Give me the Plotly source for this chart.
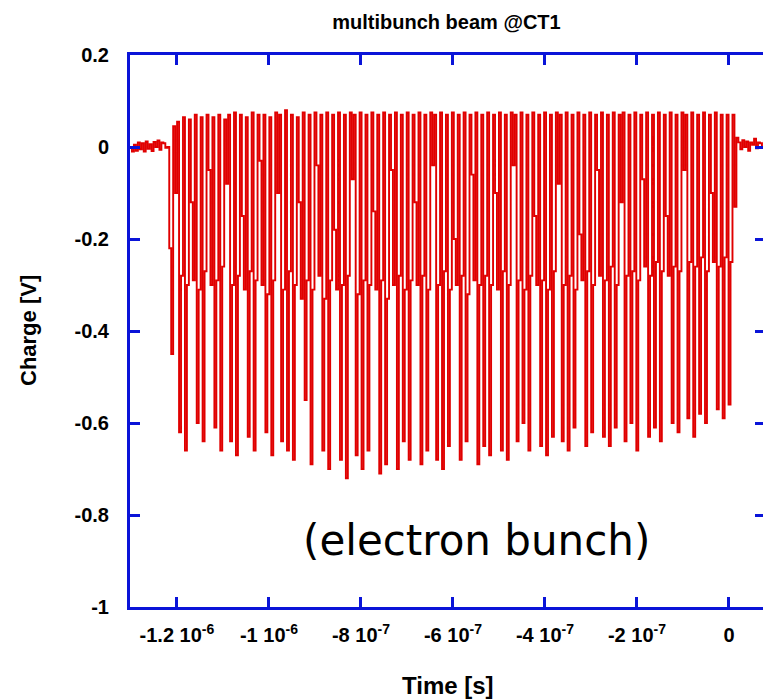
import numpy as np
import plotly.graph_objects as go

# ---- data ----
t_start = -1.302e-6          # first sample time [s]
dt = 4.266e-9                # scope sampling interval [s]

baseline_pre = [0.0, -0.01, 0.005, -0.008, 0.01, -0.005, 0.008, -0.01, 0.012, -0.004,
                0.006, -0.009, 0.011, 0.0, 0.014, -0.006, 0.01, 0.008, -0.002]

train = [
    0.00, -0.22, -0.45, 0.045, -0.10, 0.055, -0.62, -0.28, 0.065, -0.66, -0.30, 0.06, -0.12, -0.29, 0.07, -0.60, -0.31, 0.065,
    -0.64, -0.27, 0.07, -0.05, -0.30, 0.065, -0.61, -0.29, 0.07, -0.66, -0.26, 0.06, -0.08, 0.07, -0.64, -0.30, 0.075, -0.67,
    -0.28, 0.07, -0.15, -0.31, 0.065, -0.63, -0.27, 0.075, -0.66, -0.29, 0.07, -0.03, -0.30, 0.07, -0.62, -0.32, 0.065, -0.67,
    -0.29, 0.075, -0.10, 0.07, -0.64, -0.31, 0.08, -0.66, -0.27, 0.07, -0.68, -0.30, 0.065, -0.12, -0.33, 0.075, -0.55, -0.29,
    0.07, -0.69, -0.31, 0.075, -0.04, -0.28, 0.07, -0.66, -0.33, 0.075, -0.70, -0.29, 0.07, -0.18, -0.31, 0.075, -0.68, -0.30,
    0.07, -0.72, -0.28, 0.075, -0.07, 0.07, -0.67, -0.32, 0.075, -0.70, -0.29, 0.07, -0.66, -0.30, 0.075, -0.14, -0.31, 0.07,
    -0.71, -0.29, 0.075, -0.69, -0.33, 0.07, -0.05, -0.30, 0.075, -0.70, -0.28, 0.07, -0.64, -0.31, 0.075, -0.68, -0.29, 0.07,
    -0.12, -0.30, 0.075, -0.69, -0.28, 0.07, -0.66, -0.31, 0.075, -0.04, 0.07, -0.68, -0.30, 0.075, -0.70, -0.27, 0.07, -0.65,
    -0.31, 0.075, -0.20, -0.30, 0.07, -0.68, -0.28, 0.075, -0.64, -0.32, 0.07, -0.06, -0.29, 0.075, -0.69, -0.30, 0.07, -0.65,
    -0.28, 0.075, -0.67, -0.30, 0.07, -0.10, -0.31, 0.075, -0.66, -0.27, 0.07, -0.68, -0.30, 0.075, -0.04, 0.07, -0.64, -0.29,
    0.075, -0.60, -0.31, 0.07, -0.66, -0.28, 0.075, -0.15, -0.30, 0.07, -0.65, -0.29, 0.075, -0.67, -0.31, 0.07, -0.63, -0.27,
    0.075, -0.08, 0.07, -0.64, -0.30, 0.075, -0.66, -0.28, 0.07, -0.61, -0.31, 0.075, -0.19, -0.29, 0.07, -0.65, -0.27, 0.075,
    -0.62, -0.30, 0.07, -0.05, -0.28, 0.075, -0.63, -0.29, 0.07, -0.65, -0.26, 0.075, -0.61, -0.30, 0.07, -0.12, 0.075, -0.64,
    -0.28, 0.07, -0.60, -0.27, 0.075, -0.66, -0.29, 0.07, -0.07, -0.26, 0.075, -0.63, -0.28, 0.07, -0.61, -0.25, 0.075, -0.64,
    -0.27, 0.07, -0.15, -0.28, 0.075, -0.60, -0.26, 0.07, -0.62, -0.27, 0.075, -0.05, 0.07, -0.59, -0.25, 0.075, -0.63, -0.26,
    0.07, -0.58, -0.24, 0.075, -0.60, -0.27, 0.07, -0.10, -0.25, 0.075, -0.57, -0.26, 0.07, -0.59, -0.24, 0.07, -0.56, -0.25,
    0.07, -0.13, 0.02,
]

baseline_post = [0.01, -0.005, 0.015, 0.0, 0.012, -0.008, 0.01, 0.005, 0.018, -0.003,
                 0.01, 0.008, 0.0, 0.012, 0.006, 0.01]

x_tickvals = [-1.2e-6, -1.0e-6, -8e-7, -6e-7, -4e-7, -2e-7, 0]
x_ticktext = ["-1.2 10<sup>-6</sup>", "-1 10<sup>-6</sup>", "-8 10<sup>-7</sup>",
              "-6 10<sup>-7</sup>", "-4 10<sup>-7</sup>", "-2 10<sup>-7</sup>", "0"]
y_tickvals = [0.2, 0, -0.2, -0.4, -0.6, -0.8, -1]
y_ticktext = ["0.2", "0", "-0.2", "-0.4", "-0.6", "-0.8", "-1"]

# ---- figure ----
charge = np.array(baseline_pre + train + baseline_post)
time = t_start + dt * np.arange(len(charge))

BLUE = "#0a14d8"
RED = "#e00000"
FONT = "Liberation Sans"

fig = go.Figure()
fig.add_trace(go.Scatter(x=time, y=charge, mode="lines",
                         line=dict(color=RED, width=1.9, shape="hv"), showlegend=False,
                         hoverinfo="skip"))
fig.add_trace(go.Scatter(x=[None], y=[None], yaxis="y2", showlegend=False,
                         hoverinfo="skip"))

fig.update_layout(
    width=763, height=700,
    margin=dict(l=130, r=0, t=55, b=93),
    paper_bgcolor="white", plot_bgcolor="white",
    title=dict(text="multibunch beam @CT1", x=0.5, xref="paper", xanchor="center",
               y=1 - 22 / 700, yref="container", yanchor="middle",
               font=dict(family=FONT, size=20, color="black", weight="bold")),
    xaxis=dict(range=[-1.302e-6, 0.074e-6], tickvals=x_tickvals, ticktext=x_ticktext,
               showgrid=False, zeroline=False, showline=True, linecolor=BLUE, linewidth=3,
               mirror="ticks", ticks="inside", ticklen=10, tickwidth=3, tickcolor=BLUE,
               ticklabelstandoff=8,
               tickfont=dict(family=FONT, size=20, color="black", weight="bold")),
    yaxis=dict(range=[-1, 0.2], tickvals=y_tickvals, ticktext=y_ticktext,
               showgrid=False, zeroline=False, showline=True, linecolor=BLUE, linewidth=3,
               mirror=False, ticks="inside", ticklen=10, tickwidth=3, tickcolor=BLUE,
               ticklabelstandoff=14,
               tickfont=dict(family=FONT, size=20, color="black", weight="bold")),
    yaxis2=dict(range=[-1, 0.2], overlaying="y", side="right", tickvals=y_tickvals,
                showticklabels=False, showgrid=False, zeroline=False, showline=False,
                ticks="inside", ticklen=8, tickwidth=3, tickcolor=BLUE),
    annotations=[
        dict(text="Time [s]", x=(448 - 130) / 633, xref="paper", y=-78 / 552, yref="paper",
             xanchor="center", yanchor="middle", showarrow=False,
             font=dict(family=FONT, size=24, color="black", weight="bold")),
        dict(text="Charge [V]", x=-102 / 633, xref="paper", y=(607 - 331) / 552, yref="paper",
             xanchor="center", yanchor="middle", textangle=-90, showarrow=False,
             font=dict(family=FONT, size=22, color="black", weight="bold")),
        dict(text="(electron bunch)", x=(476 - 130) / 633, xref="paper", y=(607 - 540) / 552, yref="paper",
             xanchor="center", yanchor="middle", showarrow=False,
             font=dict(family="DejaVu Sans", size=42, color="black")),
    ],
)

fig.write_html("out.html")
